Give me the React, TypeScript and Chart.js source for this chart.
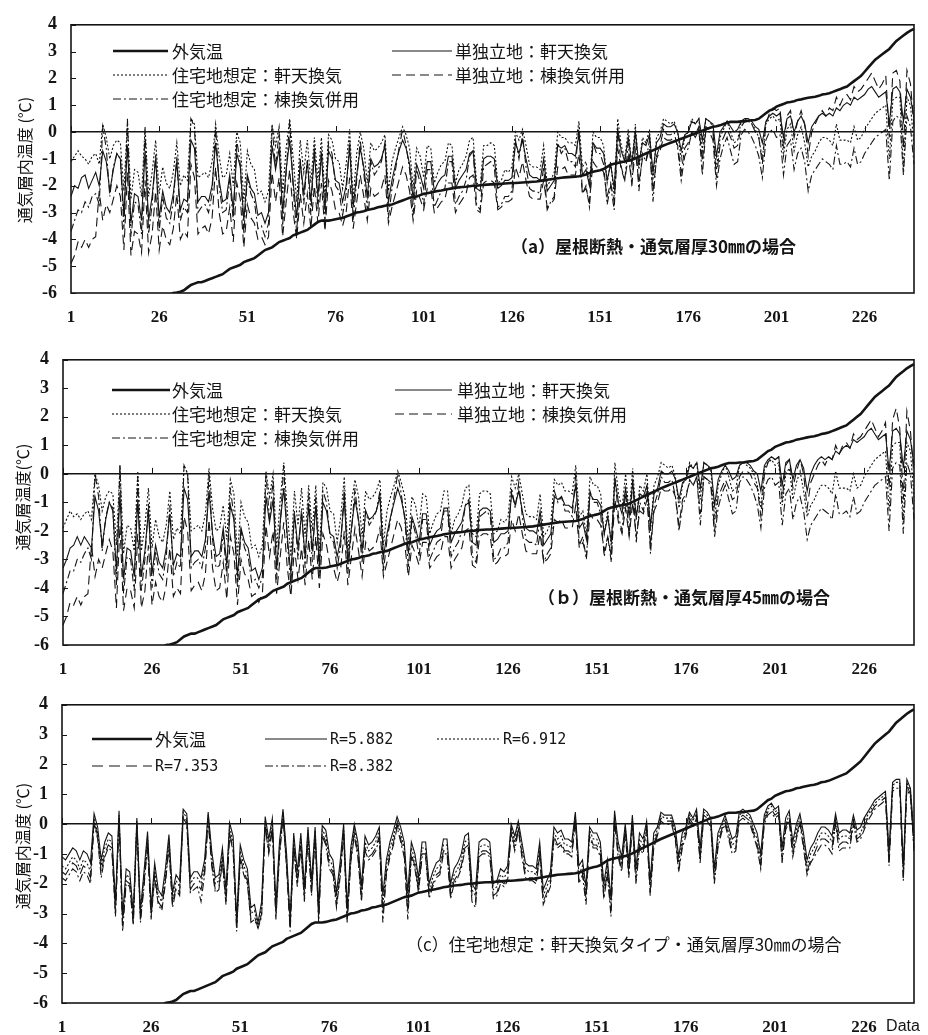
import React, { useEffect, useRef } from "react";
import { Chart, registerables } from "chart.js";

Chart.register(...registerables);

// ---------------- data ----------------
const POINT_COUNT = 240;
const categories: string[] = Array.from({ length: POINT_COUNT }, (_, i) => String(i + 1));
const xTickLabels = [1, 26, 51, 76, 101, 126, 151, 176, 201, 226];
const yMin = -6;
const yMax = 4;

// 外気温 (sorted outside air temperature, shared by all panels)
const outsideTemp = [
  -9.0,-8.8,-8.6,-8.5,-8.3,-8.2,-8.0,-7.9,-7.8,-7.7,
  -7.6,-7.5,-7.4,-7.3,-7.2,-7.1,-7.0,-6.9,-6.8,-6.7,
  -6.6,-6.55,-6.5,-6.45,-6.4,-6.3,-6.25,-6.2,-6.1,-6.0,
  -5.98,-5.95,-5.9,-5.8,-5.7,-5.65,-5.6,-5.6,-5.55,-5.5,
  -5.45,-5.4,-5.35,-5.3,-5.2,-5.1,-5.05,-5.0,-4.95,-4.85,
  -4.8,-4.75,-4.7,-4.6,-4.5,-4.4,-4.35,-4.3,-4.2,-4.1,
  -4.05,-4.0,-3.95,-3.85,-3.8,-3.75,-3.7,-3.65,-3.55,-3.45,
  -3.35,-3.3,-3.3,-3.3,-3.28,-3.25,-3.22,-3.2,-3.15,-3.1,
  -3.05,-3.0,-2.98,-2.95,-2.9,-2.88,-2.85,-2.8,-2.78,-2.75,
  -2.72,-2.7,-2.65,-2.6,-2.55,-2.5,-2.45,-2.42,-2.4,-2.35,
  -2.3,-2.28,-2.25,-2.22,-2.2,-2.18,-2.15,-2.12,-2.1,-2.08,
  -2.06,-2.05,-2.04,-2.02,-2.0,-2.0,-1.98,-1.97,-1.96,-1.95,
  -1.95,-1.94,-1.93,-1.92,-1.91,-1.9,-1.9,-1.89,-1.88,-1.87,
  -1.86,-1.85,-1.84,-1.82,-1.8,-1.78,-1.76,-1.74,-1.72,-1.7,
  -1.69,-1.68,-1.67,-1.66,-1.65,-1.62,-1.58,-1.52,-1.48,-1.45,
  -1.42,-1.38,-1.3,-1.22,-1.18,-1.15,-1.12,-1.1,-1.07,-1.04,
  -0.98,-0.92,-0.86,-0.8,-0.74,-0.68,-0.62,-0.56,-0.5,-0.45,
  -0.4,-0.35,-0.3,-0.25,-0.2,-0.15,-0.1,-0.05,0.0,0.05,
  0.1,0.15,0.2,0.22,0.25,0.3,0.35,0.38,0.38,0.38,
  0.4,0.4,0.42,0.44,0.45,0.5,0.6,0.7,0.8,0.85,
  0.95,1.0,1.05,1.1,1.12,1.15,1.2,1.22,1.25,1.28,
  1.3,1.32,1.35,1.4,1.42,1.45,1.5,1.55,1.6,1.65,
  1.7,1.8,1.9,2.0,2.1,2.25,2.4,2.55,2.7,2.8,
  2.9,3.0,3.1,3.25,3.4,3.5,3.6,3.7,3.78,3.85,
];

// (a) 30mm : 単独立地：軒天換気
const aDetachedEave = [
  -2.4,-2.0,-2.1,-1.7,-1.6,-2.1,-1.8,-1.5,-2.0,-0.7,
  -1.1,-2.2,-1.4,-0.8,-1.0,-3.1,-0.5,-3.4,-2.3,-2.4,
  -3.3,-0.7,-3.3,-2.4,-1.0,-3.2,-2.2,-2.8,-3.0,-2.3,
  -1.1,-2.9,-2.5,-2.6,-0.3,-0.6,-2.6,-2.4,-2.4,-2.6,
  -2.0,-0.4,-1.8,-2.6,-2.5,-1.6,-2.9,-0.8,-1.3,-3.3,
  -1.6,-2.1,-2.3,-3.1,-3.0,-3.4,-3.0,-0.5,-1.4,-0.6,
  -3.0,-1.4,-0.3,-1.9,-3.2,-1.1,-2.3,-1.1,-2.6,-0.8,
  -2.4,-0.8,-2.9,-0.7,-1.0,-1.8,-1.9,-2.6,-2.0,-0.6,
  -2.8,-1.6,-0.6,-1.3,-2.4,-1.0,-1.3,-1.2,-1.0,-0.5,
  -2.6,-1.8,-1.2,-0.7,-0.3,-0.6,-1.2,-2.5,-1.2,-1.6,
  -2.1,-1.1,-1.1,-2.2,-1.9,-1.7,-1.6,-0.9,-0.9,-2.1,
  -1.8,-1.6,-1.4,-0.8,-0.7,-2.1,-2.2,-1.0,-0.9,-0.9,
  -1.0,-2.1,-2.0,-1.8,-1.8,-1.7,-0.4,-0.8,-0.3,-1.0,
  -1.6,-1.7,-1.7,-1.8,-1.0,-2.2,-2.0,-1.8,-0.5,-0.6,
  -0.5,-0.8,-0.8,-0.9,-0.1,-1.6,-1.4,-2.0,-0.4,-0.6,
  -0.6,-0.8,-1.8,-1.2,-2.1,0.1,-0.7,-1.1,-0.2,-1.2,
  0.0,-1.2,-0.4,-0.5,-0.1,-1.5,-0.4,-0.2,0.3,0.2,
  0.2,0.3,0.0,-0.7,-0.1,0.0,0.4,0.3,0.5,-0.3,
  0.5,0.4,0.3,-0.9,0.0,0.2,0.4,0.2,0.0,0.1,
  0.4,0.5,0.5,0.4,0.2,0.1,-0.4,0.4,0.6,0.7,
  0.6,0.7,-0.2,0.5,0.6,0.0,0.4,0.6,0.3,-0.4,
  0.2,0.4,0.6,0.7,0.6,0.7,0.6,0.9,0.8,1.0,
  1.1,1.0,1.3,1.2,1.3,1.4,1.6,1.7,1.5,1.3,
  1.4,1.5,0.3,1.6,1.7,1.5,0.4,1.6,1.3,0.5,
];

// (a) 30mm : 住宅地想定：軒天換気
const aHouseEave = [
  -1.1,-0.9,-0.7,-0.9,-1.0,-1.2,-0.9,-0.8,-1.2,0.3,
  -0.2,-1.0,-0.5,-0.3,-0.4,-2.2,0.4,-2.5,-1.4,-1.5,
  -2.4,0.2,-2.4,-1.5,-0.3,-2.3,-1.3,-1.9,-2.1,-1.5,
  -0.4,-2.0,-1.6,-1.8,0.5,0.3,-1.7,-1.6,-1.5,-1.7,
  -1.1,0.3,-0.9,-1.7,-1.6,-0.8,-2.0,0.0,-0.4,-2.6,
  -0.7,-1.2,-1.4,-2.3,-2.2,-2.6,-2.2,0.3,-0.5,0.2,
  -2.3,-0.6,0.5,-1.0,-2.6,-0.3,-1.5,-0.3,-1.9,-0.2,
  -1.8,-0.2,-2.4,-0.1,-0.3,-1.0,-1.1,-2.1,-1.2,0.1,
  -2.5,-0.8,0.0,-0.6,-1.9,-0.4,-0.7,-0.6,-0.4,-0.1,
  -2.2,-1.1,-0.6,-0.2,0.2,-0.1,-0.6,-2.1,-0.6,-0.9,
  -1.7,-0.5,-0.6,-1.9,-1.5,-1.2,-1.1,-0.4,-0.5,-1.9,
  -1.4,-1.2,-0.9,-0.3,-0.2,-1.9,-2.0,-0.5,-0.5,-0.4,
  -0.5,-1.9,-1.8,-1.4,-1.5,-1.3,0.0,-0.3,0.1,-0.5,
  -1.2,-1.3,-1.3,-1.4,-0.5,-2.0,-1.8,-1.5,0.0,-0.2,
  -0.2,-0.4,-0.4,-0.5,0.4,-1.3,-1.1,-2.0,0.0,-0.2,
  -0.2,-0.5,-1.9,-1.1,-2.4,0.5,-0.5,-1.0,0.1,-1.2,
  0.3,-1.4,-0.2,-0.4,0.1,-1.8,-0.2,0.0,0.5,0.4,
  0.3,0.4,0.0,-1.0,-0.2,0.0,0.5,0.3,0.5,-0.7,
  0.5,0.4,0.2,-1.4,-0.2,0.1,0.4,0.0,-0.4,-0.3,
  0.4,0.5,0.4,0.3,0.1,-0.2,-1.0,0.3,0.5,0.6,
  0.4,0.5,-0.9,0.1,0.3,-0.7,-0.1,0.2,-0.4,-1.3,
  -0.9,-0.7,-0.4,-0.2,-0.2,-0.3,-0.5,0.3,-0.3,-0.3,
  -0.3,-0.4,0.2,-0.3,-0.2,0.1,0.3,0.5,0.7,0.8,
  0.9,1.0,-1.0,1.2,1.3,1.3,-1.4,1.3,1.0,-0.5,
];

// (a) 30mm : 単独立地：棟換気併用
const aDetachedRidge = [
  -4.9,-4.6,-4.1,-4.3,-4.0,-4.3,-4.0,-3.9,-2.2,-3.3,
  -2.7,-3.0,-2.5,-2.0,-2.4,-4.4,-1.5,-4.6,-3.7,-3.8,
  -4.5,-1.8,-4.5,-3.8,-2.2,-4.4,-3.5,-4.0,-4.2,-3.6,
  -2.3,-4.0,-3.7,-3.9,-1.2,-1.7,-3.8,-3.6,-3.5,-3.8,
  -3.2,-1.3,-3.0,-3.8,-3.7,-2.8,-4.1,-1.9,-2.5,-4.3,
  -2.7,-3.2,-3.4,-4.0,-3.9,-4.2,-3.9,-1.5,-2.6,-1.7,
  -3.9,-2.6,-1.4,-3.0,-4.0,-2.3,-3.4,-2.3,-3.6,-2.0,
  -3.4,-1.9,-3.7,-1.8,-2.2,-2.9,-3.0,-3.5,-3.0,-1.7,
  -3.6,-2.6,-1.6,-2.4,-3.3,-2.1,-2.4,-2.3,-2.1,-1.6,
  -3.4,-2.8,-2.3,-1.8,-1.3,-1.6,-2.2,-3.3,-2.2,-2.5,
  -2.9,-2.1,-2.1,-3.0,-2.8,-2.6,-2.5,-1.9,-1.9,-3.0,
  -2.7,-2.5,-2.3,-1.7,-1.6,-2.9,-3.0,-1.9,-1.8,-1.8,
  -1.9,-2.9,-2.8,-2.6,-2.6,-2.5,-1.3,-1.7,-1.1,-1.8,
  -2.4,-2.5,-2.5,-2.5,-1.8,-2.8,-2.7,-2.5,-1.3,-1.4,
  -1.3,-1.6,-1.6,-1.6,-0.8,-2.3,-2.1,-2.6,-1.1,-1.3,
  -1.3,-1.5,-2.4,-1.9,-2.6,-0.6,-1.4,-1.8,-0.9,-1.9,
  -0.7,-1.9,-1.0,-1.1,-0.6,-2.2,-1.0,-0.7,-0.2,-0.3,
  -0.3,-0.2,-0.5,-1.5,-0.6,-0.4,0.0,-0.1,0.2,-1.1,
  0.2,0.1,0.0,-1.7,-0.5,-0.2,0.1,-0.2,-0.6,-0.5,
  0.2,0.4,0.4,0.3,0.0,-0.2,-1.2,0.3,0.7,0.9,
  0.8,0.9,-0.6,0.6,0.8,-0.2,0.4,0.8,0.3,-0.9,
  0.0,0.3,0.6,0.8,0.6,0.9,0.8,1.3,1.0,1.3,
  1.4,1.2,1.7,1.5,1.6,1.8,2.0,2.2,1.9,1.6,
  1.8,2.1,-0.2,2.2,2.3,1.9,-0.6,2.3,1.8,0.2,
];

// (a) 30mm : 住宅地想定：棟換気併用
const aHouseRidge = [
  -3.7,-3.3,-2.9,-3.0,-2.6,-2.8,-2.4,-2.3,-2.7,0.2,
  -0.6,-2.4,-1.3,-0.8,-1.0,-3.6,0.5,-3.9,-2.6,-2.7,
  -3.8,0.1,-3.8,-2.7,-0.8,-3.7,-2.4,-3.2,-3.4,-2.6,
  -0.9,-3.3,-2.8,-3.0,0.5,0.2,-3.0,-2.8,-2.7,-3.0,
  -2.3,0.2,-2.0,-3.0,-2.9,-1.8,-3.3,-0.3,-1.2,-3.8,
  -1.7,-2.3,-2.6,-3.6,-3.5,-3.9,-3.4,0.2,-1.3,0.0,
  -3.5,-1.5,0.4,-2.1,-3.8,-1.0,-2.7,-1.0,-3.1,-0.5,
  -2.9,-0.6,-3.4,-0.4,-0.8,-2.0,-2.2,-3.1,-2.3,-0.3,
  -3.3,-1.8,-0.3,-1.5,-2.9,-1.1,-1.6,-1.4,-1.1,-0.4,
  -3.2,-2.1,-1.4,-0.6,0.1,-0.5,-1.4,-3.1,-1.4,-1.9,
  -2.7,-1.4,-1.4,-2.8,-2.5,-2.2,-2.1,-1.1,-1.1,-2.7,
  -2.4,-2.2,-1.8,-0.9,-0.7,-2.7,-2.9,-1.3,-1.2,-1.1,
  -1.3,-2.8,-2.7,-2.4,-2.4,-2.2,-0.3,-1.0,-0.1,-1.3,
  -2.1,-2.2,-2.2,-2.3,-1.3,-2.9,-2.6,-2.4,-0.4,-0.8,
  -0.6,-1.1,-1.1,-1.3,0.2,-2.3,-2.0,-2.8,-0.4,-0.8,
  -0.8,-1.2,-2.7,-2.0,-2.9,0.1,-1.3,-1.8,-0.4,-2.0,
  0.0,-2.2,-0.8,-1.1,-0.3,-2.6,-0.9,-0.5,0.1,-0.1,
  -0.1,0.0,-0.6,-1.8,-0.9,-0.6,0.0,-0.2,0.1,-1.6,
  0.1,0.0,-0.3,-2.0,-1.0,-0.5,-0.2,-0.7,-1.2,-1.1,
  -0.1,0.1,0.0,-0.2,-0.5,-0.9,-1.7,-0.3,0.0,0.1,
  -0.2,-0.1,-1.6,-0.5,-0.3,-1.4,-0.8,-0.6,-1.1,-2.2,
  -1.6,-1.4,-1.2,-1.0,-1.1,-1.2,-1.4,-0.5,-1.2,-1.2,
  -1.1,-1.3,-0.6,-1.2,-1.1,-0.8,-0.6,-0.4,-0.2,-0.1,
  0.0,0.1,-1.8,0.4,0.6,0.5,-1.6,0.6,0.2,-1.2,
];

// (b) 45mm : 単独立地：軒天換気
const bDetachedEave = [
  -3.3,-3.0,-2.6,-2.5,-2.2,-2.5,-2.2,-2.4,-2.6,-0.8,
  -1.3,-2.5,-1.6,-1.0,-1.3,-3.4,-0.7,-3.7,-2.6,-2.7,
  -3.6,-0.9,-3.6,-2.7,-1.3,-3.5,-2.5,-3.1,-3.3,-2.6,
  -1.4,-3.2,-2.8,-2.9,-0.5,-0.9,-2.9,-2.7,-2.7,-2.9,
  -2.3,-0.6,-2.1,-2.9,-2.8,-1.9,-3.2,-1.1,-1.6,-3.6,
  -1.9,-2.4,-2.6,-3.4,-3.3,-3.7,-3.3,-0.8,-1.7,-0.9,
  -3.3,-1.7,-0.5,-2.2,-3.5,-1.4,-2.6,-1.4,-2.9,-1.1,
  -2.7,-1.1,-3.2,-1.0,-1.3,-2.1,-2.2,-2.9,-2.3,-0.9,
  -3.1,-1.9,-0.9,-1.6,-2.7,-1.3,-1.6,-1.5,-1.3,-0.8,
  -2.9,-2.1,-1.5,-1.0,-0.5,-0.9,-1.5,-2.8,-1.5,-1.9,
  -2.4,-1.4,-1.4,-2.5,-2.2,-2.0,-1.9,-1.2,-1.2,-2.4,
  -2.1,-1.9,-1.7,-1.1,-1.0,-2.4,-2.5,-1.3,-1.2,-1.2,
  -1.3,-2.4,-2.3,-2.1,-2.1,-2.0,-0.7,-1.1,-0.6,-1.3,
  -1.9,-2.0,-2.0,-2.1,-1.3,-2.5,-2.3,-2.1,-0.8,-0.9,
  -0.8,-1.1,-1.1,-1.2,-0.4,-1.9,-1.7,-2.3,-0.7,-0.9,
  -0.9,-1.1,-2.1,-1.5,-2.4,-0.2,-1.0,-1.4,-0.5,-1.5,
  -0.3,-1.5,-0.7,-0.8,-0.4,-1.8,-0.7,-0.5,0.1,0.0,
  0.0,0.1,-0.2,-0.9,-0.3,-0.2,0.3,0.2,0.4,-0.5,
  0.4,0.3,0.2,-1.1,-0.2,0.1,0.3,0.1,-0.2,-0.1,
  0.3,0.4,0.4,0.3,0.1,0.0,-0.6,0.3,0.5,0.6,
  0.5,0.6,-0.4,0.4,0.5,-0.2,0.3,0.5,0.2,-0.6,
  0.0,0.3,0.5,0.6,0.5,0.6,0.5,0.8,0.7,0.9,
  1.0,0.9,1.2,1.1,1.2,1.3,1.5,1.6,1.4,1.2,
  1.3,1.4,0.1,1.5,1.6,1.4,0.2,1.5,1.2,0.3,
];

// (b) 45mm : 住宅地想定：軒天換気
const bHouseEave = [
  -1.9,-1.6,-1.3,-1.5,-1.4,-1.6,-1.4,-1.3,-1.6,0.0,
  -0.4,-1.3,-0.8,-0.6,-0.7,-2.5,0.3,-2.8,-1.8,-1.9,
  -2.7,0.1,-2.7,-1.8,-0.5,-2.6,-1.6,-2.2,-2.4,-1.8,
  -0.6,-2.3,-1.9,-2.1,0.3,0.0,-2.0,-1.9,-1.8,-2.0,
  -1.4,0.2,-1.2,-2.0,-1.9,-1.1,-2.3,-0.2,-0.7,-2.9,
  -1.0,-1.5,-1.7,-2.6,-2.5,-2.9,-2.5,0.1,-0.8,0.0,
  -2.6,-0.9,0.4,-1.3,-2.9,-0.6,-1.8,-0.5,-2.2,-0.4,
  -2.0,-0.4,-2.7,-0.3,-0.5,-1.3,-1.4,-2.4,-1.5,-0.1,
  -2.8,-1.0,-0.2,-0.8,-2.2,-0.6,-0.9,-0.8,-0.6,-0.2,
  -2.5,-1.3,-0.8,-0.4,0.1,-0.3,-0.8,-2.4,-0.8,-1.1,
  -1.9,-0.7,-0.8,-2.1,-1.7,-1.4,-1.3,-0.6,-0.6,-2.1,
  -1.6,-1.4,-1.1,-0.5,-0.4,-2.1,-2.2,-0.7,-0.6,-0.6,
  -0.7,-2.1,-2.0,-1.6,-1.7,-1.5,-0.1,-0.5,0.0,-0.7,
  -1.4,-1.5,-1.5,-1.6,-0.7,-2.2,-2.0,-1.7,-0.2,-0.4,
  -0.3,-0.6,-0.6,-0.7,0.3,-1.5,-1.3,-2.2,-0.1,-0.4,
  -0.4,-0.7,-2.1,-1.3,-2.6,0.4,-0.7,-1.2,0.0,-1.4,
  0.2,-1.6,-0.4,-0.6,0.0,-2.0,-0.4,-0.1,0.4,0.3,
  0.2,0.3,-0.1,-1.2,-0.4,-0.1,0.4,0.2,0.4,-0.9,
  0.4,0.3,0.1,-1.6,-0.4,0.0,0.3,-0.1,-0.6,-0.5,
  0.3,0.4,0.3,0.2,0.0,-0.4,-1.2,0.2,0.4,0.5,
  0.3,0.4,-1.1,0.0,0.2,-0.9,-0.3,0.1,-0.6,-1.5,
  -1.1,-0.9,-0.6,-0.4,-0.4,-0.5,-0.7,0.1,-0.5,-0.5,
  -0.5,-0.6,0.0,-0.5,-0.4,-0.1,0.1,0.3,0.5,0.6,
  0.7,0.8,-1.3,1.0,1.1,1.1,-1.7,1.1,0.8,-0.8,
];

// (b) 45mm : 単独立地：棟換気併用
const bDetachedRidge = [
  -5.3,-5.0,-4.5,-4.6,-4.3,-4.6,-4.3,-4.2,-2.5,-3.6,
  -3.0,-3.3,-2.8,-2.3,-2.7,-4.7,-1.8,-4.8,-4.0,-4.1,
  -4.7,-2.1,-4.7,-4.1,-2.5,-4.6,-3.8,-4.3,-4.5,-3.9,
  -2.6,-4.3,-4.0,-4.2,-1.5,-2.0,-4.1,-3.9,-3.8,-4.1,
  -3.5,-1.6,-3.3,-4.1,-4.0,-3.1,-4.4,-2.2,-2.8,-4.6,
  -3.0,-3.5,-3.7,-4.3,-4.2,-4.5,-4.2,-1.8,-2.9,-2.0,
  -4.2,-2.9,-1.7,-3.3,-4.3,-2.6,-3.7,-2.6,-3.9,-2.3,
  -3.7,-2.2,-4.0,-2.1,-2.5,-3.2,-3.3,-3.8,-3.3,-2.0,
  -3.9,-2.9,-1.9,-2.7,-3.6,-2.4,-2.7,-2.6,-2.4,-1.9,
  -3.6,-3.1,-2.6,-2.1,-1.6,-1.9,-2.5,-3.6,-2.5,-2.8,
  -3.2,-2.4,-2.4,-3.3,-3.1,-2.9,-2.8,-2.2,-2.2,-3.3,
  -3.0,-2.8,-2.6,-2.0,-1.9,-3.2,-3.3,-2.2,-2.1,-2.1,
  -2.2,-3.2,-3.1,-2.9,-2.9,-2.8,-1.6,-2.0,-1.4,-2.1,
  -2.7,-2.8,-2.8,-2.8,-2.1,-3.1,-3.0,-2.8,-1.6,-1.7,
  -1.6,-1.9,-1.9,-1.9,-1.1,-2.6,-2.4,-2.9,-1.4,-1.6,
  -1.6,-1.8,-2.7,-2.2,-2.9,-0.9,-1.7,-2.1,-1.2,-2.2,
  -1.0,-2.2,-1.3,-1.4,-0.9,-2.5,-1.3,-1.0,-0.5,-0.6,
  -0.6,-0.5,-0.8,-1.8,-0.9,-0.7,-0.3,-0.4,-0.1,-1.4,
  -0.1,-0.2,-0.3,-2.0,-0.8,-0.5,-0.2,-0.5,-0.9,-0.8,
  -0.1,0.1,0.1,0.0,-0.3,-0.5,-1.5,0.0,0.4,0.6,
  0.5,0.6,-0.9,0.3,0.5,-0.5,0.1,0.5,0.0,-1.2,
  -0.3,0.0,0.3,0.5,0.3,0.6,0.5,1.0,0.7,1.0,
  1.1,0.9,1.4,1.2,1.3,1.5,1.7,1.9,1.6,1.3,
  1.5,1.8,-0.5,1.9,2.3,1.6,-0.9,2.2,1.5,-0.1,
];

// (b) 45mm : 住宅地想定：棟換気併用
const bHouseRidge = [
  -4.2,-3.8,-3.4,-3.4,-3.0,-3.1,-2.8,-2.6,-3.0,0.0,
  -0.8,-2.7,-1.5,-1.0,-1.2,-3.9,0.3,-4.2,-2.9,-3.0,
  -4.1,-0.1,-4.1,-3.0,-1.0,-4.0,-2.7,-3.5,-3.7,-2.9,
  -1.1,-3.6,-3.1,-3.3,0.3,0.0,-3.3,-3.1,-3.0,-3.3,
  -2.6,0.0,-2.3,-3.3,-3.2,-2.1,-3.6,-0.5,-1.5,-4.0,
  -2.0,-2.6,-2.9,-3.8,-3.7,-4.0,-3.6,0.0,-1.6,-0.2,
  -3.7,-1.8,0.3,-2.4,-3.9,-1.3,-3.0,-1.2,-3.3,-0.7,
  -3.1,-0.8,-3.6,-0.6,-1.0,-2.2,-2.4,-3.3,-2.5,-0.5,
  -3.5,-2.0,-0.5,-1.7,-3.1,-1.3,-1.8,-1.6,-1.3,-0.6,
  -3.4,-2.3,-1.6,-0.8,0.0,-0.7,-1.6,-3.3,-1.6,-2.1,
  -2.9,-1.6,-1.6,-3.0,-2.7,-2.4,-2.3,-1.3,-1.3,-2.9,
  -2.6,-2.4,-2.0,-1.1,-0.9,-2.9,-3.1,-1.5,-1.4,-1.3,
  -1.5,-3.0,-2.9,-2.6,-2.6,-2.4,-0.5,-1.2,-0.3,-1.5,
  -2.3,-2.4,-2.4,-2.5,-1.5,-3.1,-2.8,-2.6,-0.6,-1.0,
  -0.8,-1.3,-1.3,-1.5,0.0,-2.5,-2.2,-3.0,-0.6,-1.0,
  -1.0,-1.4,-2.9,-2.2,-3.1,-0.1,-1.5,-2.0,-0.6,-2.2,
  -0.2,-2.4,-1.0,-1.3,-0.5,-2.8,-1.1,-0.7,-0.1,-0.3,
  -0.3,-0.2,-0.8,-2.0,-1.1,-0.8,-0.2,-0.4,-0.1,-1.8,
  -0.1,-0.2,-0.5,-2.2,-1.2,-0.7,-0.4,-0.9,-1.4,-1.3,
  -0.3,-0.1,-0.2,-0.4,-0.7,-1.1,-1.9,-0.5,-0.2,-0.1,
  -0.4,-0.3,-1.8,-0.7,-0.5,-1.6,-1.0,-0.8,-1.3,-2.3,
  -1.8,-1.6,-1.4,-1.2,-1.3,-1.4,-1.6,-0.7,-1.4,-1.4,
  -1.3,-1.5,-0.8,-1.4,-1.3,-1.0,-0.8,-0.6,-0.4,-0.3,
  -0.2,-0.1,-2.0,0.2,0.4,0.3,-2.1,0.4,0.0,-1.6,
];

// (c) 住宅地想定：軒天換気タイプ 30mm, R=5.882
const cR5882 = [
  -1.1,-1.2,-1.0,-0.8,-0.9,-1.2,-0.9,-1.0,-1.3,0.35,
  -0.1,-1.2,-0.6,-0.3,-0.4,-2.6,0.45,-3.1,-1.5,-1.6,
  -3.0,0.2,-2.9,-1.6,-0.25,-2.8,-1.3,-2.2,-2.4,-1.5,
  -0.35,-2.3,-1.7,-1.9,0.5,0.35,-1.8,-1.6,-1.6,-1.8,
  -1.2,0.4,-0.9,-1.8,-1.7,-0.8,-2.2,0.05,-0.4,-3.2,
  -0.7,-1.2,-1.5,-2.8,-2.7,-3.3,-2.6,0.25,-0.5,0.2,
  -2.7,-0.6,0.5,-1.0,-3.2,-0.3,-1.6,-0.3,-2.1,-0.1,
  -1.9,-0.1,-2.8,-0.05,-0.2,-1.0,-1.2,-2.3,-1.3,0.0,
  -2.8,-0.8,0.0,-0.6,-2.1,-0.4,-0.7,-0.6,-0.4,-0.1,
  -2.4,-1.2,-0.6,-0.2,0.25,-0.1,-0.6,-2.3,-0.6,-1.0,
  -1.8,-0.6,-0.6,-2.0,-1.6,-1.3,-1.2,-0.5,-0.5,-2.0,
  -1.5,-1.3,-1.0,-0.4,-0.3,-2.0,-2.2,-0.6,-0.5,-0.5,
  -0.6,-2.0,-1.9,-1.5,-1.6,-1.4,0.0,-0.4,0.1,-0.6,
  -1.3,-1.4,-1.4,-1.5,-0.6,-2.2,-1.9,-1.6,-0.1,-0.3,
  -0.2,-0.5,-0.5,-0.6,0.4,-1.4,-1.2,-2.1,-0.1,-0.3,
  -0.3,-0.6,-2.0,-1.2,-2.5,0.45,-0.6,-1.1,0.0,-1.3,
  0.3,-1.5,-0.3,-0.5,0.1,-1.9,-0.3,-0.1,0.4,0.3,
  0.3,0.3,-0.1,-1.1,-0.3,-0.1,0.4,0.2,0.5,-0.8,
  0.5,0.4,0.2,-1.5,-0.3,0.0,0.3,-0.1,-0.5,-0.4,
  0.4,0.5,0.4,0.3,0.0,-0.3,-1.0,0.3,0.6,0.7,
  0.5,0.6,-0.8,0.2,0.45,-0.6,0.0,0.35,-0.3,-1.2,
  -0.8,-0.6,-0.3,-0.1,-0.1,-0.2,-0.4,0.35,-0.3,-0.2,
  -0.2,-0.3,0.3,-0.2,-0.1,0.2,0.4,0.6,0.8,0.9,
  1.0,1.1,-0.9,1.4,1.5,1.5,-1.4,1.5,1.2,-0.4,
];

// (c) R=6.912
const cR6912 = [
  -1.4,-1.5,-1.3,-1.1,-1.2,-1.5,-1.2,-1.3,-1.6,0.2,
  -0.3,-1.4,-0.8,-0.5,-0.6,-2.8,0.3,-3.2,-1.7,-1.8,
  -3.1,0.1,-3.0,-1.8,-0.4,-2.9,-1.5,-2.4,-2.6,-1.7,
  -0.5,-2.5,-1.9,-2.1,0.4,0.2,-2.0,-1.8,-1.8,-2.0,
  -1.4,0.3,-1.1,-2.0,-1.9,-1.0,-2.4,-0.1,-0.6,-3.3,
  -0.9,-1.4,-1.7,-3.0,-2.9,-3.4,-2.8,0.1,-0.7,0.1,
  -2.9,-0.8,0.4,-1.2,-3.3,-0.5,-1.8,-0.5,-2.3,-0.2,
  -2.1,-0.2,-3.0,-0.2,-0.4,-1.2,-1.4,-2.5,-1.5,-0.1,
  -3.0,-1.0,-0.1,-0.8,-2.3,-0.6,-0.9,-0.8,-0.6,-0.2,
  -2.7,-1.4,-0.8,-0.4,0.1,-0.3,-0.8,-2.6,-0.8,-1.2,
  -2.0,-0.8,-0.8,-2.2,-1.8,-1.5,-1.4,-0.7,-0.7,-2.2,
  -1.7,-1.5,-1.2,-0.6,-0.5,-2.2,-2.4,-0.8,-0.7,-0.7,
  -0.8,-2.2,-2.1,-1.7,-1.8,-1.6,-0.1,-0.6,0.0,-0.8,
  -1.5,-1.6,-1.6,-1.7,-0.8,-2.4,-2.1,-1.8,-0.3,-0.5,
  -0.4,-0.7,-0.7,-0.8,0.3,-1.7,-1.4,-2.3,-0.2,-0.5,
  -0.5,-0.8,-2.2,-1.4,-2.7,0.3,-0.8,-1.3,-0.1,-1.5,
  0.2,-1.7,-0.5,-0.7,0.0,-2.1,-0.5,-0.2,0.3,0.2,
  0.2,0.2,-0.3,-1.3,-0.5,-0.2,0.3,0.1,0.4,-1.0,
  0.4,0.3,0.1,-1.7,-0.5,-0.1,0.2,-0.3,-0.7,-0.6,
  0.3,0.4,0.3,0.2,-0.2,-0.5,-1.2,0.2,0.5,0.6,
  0.4,0.5,-1.0,0.0,0.3,-0.8,-0.2,0.2,-0.5,-1.4,
  -1.0,-0.8,-0.5,-0.3,-0.3,-0.4,-0.6,0.2,-0.5,-0.4,
  -0.4,-0.5,0.2,-0.4,-0.3,0.0,0.3,0.5,0.7,0.8,
  0.9,1.0,-1.1,1.3,1.4,1.4,-1.6,1.4,1.1,-0.6,
];

// (c) R=7.353
const cR7353 = [
  -1.6,-1.7,-1.5,-1.3,-1.4,-1.7,-1.4,-1.5,-1.8,0.1,
  -0.4,-1.6,-1.0,-0.7,-0.8,-3.0,0.2,-3.4,-1.9,-2.0,
  -3.3,0.0,-3.2,-2.0,-0.6,-3.1,-1.7,-2.6,-2.8,-1.9,
  -0.7,-2.7,-2.1,-2.3,0.3,0.1,-2.2,-2.0,-2.0,-2.2,
  -1.6,0.2,-1.3,-2.2,-2.1,-1.2,-2.6,-0.3,-0.8,-3.5,
  -1.1,-1.6,-1.9,-3.2,-3.1,-3.5,-3.0,0.0,-0.9,-0.1,
  -3.1,-1.0,0.3,-1.4,-3.5,-0.7,-2.0,-0.7,-2.5,-0.4,
  -2.3,-0.4,-3.2,-0.3,-0.6,-1.4,-1.6,-2.7,-1.7,-0.3,
  -3.2,-1.2,-0.3,-1.0,-2.5,-0.8,-1.1,-1.0,-0.8,-0.4,
  -3.0,-1.6,-1.0,-0.6,0.0,-0.5,-1.0,-2.9,-1.0,-1.4,
  -2.2,-1.0,-1.0,-2.4,-2.0,-1.7,-1.6,-0.9,-0.9,-2.4,
  -1.9,-1.7,-1.4,-0.8,-0.7,-2.4,-2.6,-1.0,-0.9,-0.9,
  -1.0,-2.4,-2.3,-1.9,-2.0,-1.8,-0.2,-0.8,-0.1,-1.0,
  -1.7,-1.8,-1.8,-1.9,-1.0,-2.6,-2.3,-2.0,-0.4,-0.7,
  -0.6,-0.9,-0.9,-1.0,0.2,-1.9,-1.6,-2.5,-0.3,-0.7,
  -0.7,-1.0,-2.4,-1.6,-2.9,0.2,-1.0,-1.5,-0.2,-1.7,
  0.1,-1.9,-0.7,-0.9,-0.1,-2.3,-0.7,-0.3,0.2,0.1,
  0.1,0.1,-0.4,-1.5,-0.7,-0.3,0.2,0.0,0.3,-1.2,
  0.3,0.2,0.0,-1.9,-0.7,-0.2,0.1,-0.4,-0.9,-0.8,
  0.2,0.3,0.2,0.1,-0.3,-0.7,-1.4,0.1,0.4,0.5,
  0.3,0.4,-1.2,-0.1,0.2,-1.0,-0.4,0.1,-0.7,-1.6,
  -1.2,-1.0,-0.7,-0.5,-0.5,-0.6,-0.8,0.1,-0.7,-0.6,
  -0.6,-0.7,0.1,-0.5,-0.4,-0.1,0.2,0.4,0.6,0.7,
  0.8,0.9,-1.3,1.2,1.3,1.3,-1.8,1.3,1.0,-0.8,
];

// (c) R=8.382
const cR8382 = [
  -1.8,-1.9,-1.7,-1.5,-1.6,-1.9,-1.6,-1.7,-2.0,0.0,
  -0.5,-1.8,-1.1,-0.8,-0.9,-3.1,0.1,-3.6,-2.0,-2.1,
  -3.4,-0.1,-3.3,-2.1,-0.7,-3.2,-1.8,-2.7,-2.9,-2.0,
  -0.8,-2.8,-2.2,-2.4,0.2,0.0,-2.3,-2.2,-2.1,-2.6,
  -1.7,0.1,-1.4,-2.3,-2.2,-1.3,-2.7,-0.4,-0.9,-3.6,
  -1.2,-1.7,-2.0,-3.3,-3.2,-3.5,-3.1,-0.1,-1.0,-0.2,
  -3.2,-1.1,0.2,-1.5,-3.6,-0.8,-2.1,-0.8,-2.6,-0.5,
  -2.4,-0.5,-3.3,-0.4,-0.7,-1.5,-1.7,-2.8,-1.8,-0.4,
  -3.3,-1.3,-0.4,-1.1,-2.6,-0.9,-1.2,-1.1,-0.9,-0.5,
  -3.3,-1.7,-1.1,-0.7,-0.1,-0.6,-1.1,-3.2,-1.1,-1.5,
  -2.3,-1.1,-1.1,-2.5,-2.1,-1.8,-1.7,-1.0,-1.0,-2.5,
  -2.0,-1.8,-1.5,-0.9,-0.8,-2.6,-2.8,-1.1,-1.0,-1.0,
  -1.1,-2.5,-2.4,-2.0,-2.1,-1.9,-0.3,-0.9,-0.2,-1.1,
  -1.8,-1.9,-1.9,-2.0,-1.1,-2.7,-2.4,-2.1,-0.5,-0.8,
  -0.7,-1.0,-1.0,-1.1,0.1,-2.0,-1.7,-2.7,-0.4,-0.8,
  -0.8,-1.1,-2.5,-1.7,-3.1,0.1,-1.1,-1.6,-0.3,-1.8,
  0.0,-2.0,-0.8,-1.0,-0.2,-2.4,-0.8,-0.4,0.1,0.0,
  0.0,0.0,-0.5,-1.6,-0.8,-0.4,0.1,-0.1,0.2,-1.3,
  0.2,0.1,-0.1,-2.0,-0.8,-0.3,0.0,-0.5,-1.0,-0.9,
  0.1,0.2,0.1,0.0,-0.4,-0.8,-1.5,0.0,0.3,0.4,
  0.2,0.3,-1.3,-0.2,0.1,-1.1,-0.5,0.0,-0.8,-1.7,
  -1.3,-1.1,-0.9,-0.7,-0.7,-0.8,-1.0,0.0,-0.9,-0.8,
  -0.8,-0.8,0.0,-0.6,-0.5,-0.2,0.1,0.3,0.5,0.6,
  0.7,0.8,-1.4,1.1,1.2,1.2,-1.9,1.2,0.9,-0.9,
];

// ---------------- styles ----------------
const INK = "#141414";
const SERIF = "'Liberation Serif', 'DejaVu Serif', serif";
const GOTHIC = "'Noto Sans CJK JP', 'Noto Sans', sans-serif";
const MONO = "'DejaVu Sans Mono', 'Liberation Mono', monospace";

type SeriesSpec = { label: string; data: number[]; width: number; dash: number[] };
type LegendSpec = { label: string; x1: number; x2: number; tx: number; y: number; width: number; dash: number[]; mono?: boolean };
type PanelSpec = {
  top: number;
  height: number;
  padTop: number;
  axisLeft: number;
  axisBottom: number;
  padRight: number;
  yTitle: string;
  yTitleX: number;
  yTitleY: number;
  note: string;
  noteX: number;
  noteY: number;
  noteBold: boolean;
  showDataLabel: boolean;
  series: SeriesSpec[];
  legend: LegendSpec[];
};

const OUT_W = 2.6;
const THIN = 1.1;
const DOT = [2, 2];
const DASH = [9, 5];
const DASHDOT = [8, 3, 2, 3];
const LONGDASH = [11, 6];

const outsideSeries: SeriesSpec = { label: "外気温", data: outsideTemp, width: OUT_W, dash: [] };

const panels: PanelSpec[] = [
  {
    top: 0, height: 335, padTop: 17, axisLeft: 71, axisBottom: 42, padRight: 13,
    yTitle: "通気層内温度 (℃)", yTitleX: 25, yTitleY: 160,
    note: "（a）屋根断熱・通気層厚30㎜の場合", noteX: 511, noteY: 247, noteBold: true,
    showDataLabel: false,
    series: [
      outsideSeries,
      { label: "単独立地：軒天換気", data: aDetachedEave, width: THIN, dash: [] },
      { label: "住宅地想定：軒天換気", data: aHouseEave, width: THIN, dash: DOT },
      { label: "単独立地：棟換気併用", data: aDetachedRidge, width: THIN, dash: DASH },
      { label: "住宅地想定：棟換気併用", data: aHouseRidge, width: THIN, dash: DASHDOT },
    ],
    legend: [
      { label: "外気温", x1: 113, x2: 168, tx: 172, y: 51, width: OUT_W, dash: [] },
      { label: "住宅地想定：軒天換気", x1: 113, x2: 168, tx: 172, y: 75, width: THIN, dash: DOT },
      { label: "住宅地想定：棟換気併用", x1: 113, x2: 168, tx: 172, y: 99, width: THIN, dash: DASHDOT },
      { label: "単独立地：軒天換気", x1: 392, x2: 452, tx: 455, y: 51, width: THIN, dash: [] },
      { label: "単独立地：棟換気併用", x1: 392, x2: 452, tx: 455, y: 75, width: THIN, dash: DASH },
    ],
  },
  {
    top: 335, height: 345, padTop: 20, axisLeft: 63, axisBottom: 35, padRight: 13,
    yTitle: "通気層温度(℃)", yTitleX: 23, yTitleY: 162,
    note: "（ｂ）屋根断熱・通気層厚45㎜の場合", noteX: 538, noteY: 263, noteBold: true,
    showDataLabel: false,
    series: [
      outsideSeries,
      { label: "単独立地：軒天換気", data: bDetachedEave, width: THIN, dash: [] },
      { label: "住宅地想定：軒天換気", data: bHouseEave, width: THIN, dash: DOT },
      { label: "単独立地：棟換気併用", data: bDetachedRidge, width: THIN, dash: DASH },
      { label: "住宅地想定：棟換気併用", data: bHouseRidge, width: THIN, dash: DASHDOT },
    ],
    legend: [
      { label: "外気温", x1: 112, x2: 170, tx: 172, y: 55, width: OUT_W, dash: [] },
      { label: "住宅地想定：軒天換気", x1: 112, x2: 170, tx: 172, y: 79, width: THIN, dash: DOT },
      { label: "住宅地想定：棟換気併用", x1: 112, x2: 170, tx: 172, y: 103, width: THIN, dash: DASHDOT },
      { label: "単独立地：軒天換気", x1: 395, x2: 452, tx: 457, y: 55, width: THIN, dash: [] },
      { label: "単独立地：棟換気併用", x1: 395, x2: 452, tx: 457, y: 79, width: THIN, dash: DASH },
    ],
  },
  {
    top: 680, height: 355, padTop: 23, axisLeft: 62, axisBottom: 32, padRight: 13,
    yTitle: "通気層内温度 (℃)", yTitleX: 23, yTitleY: 166,
    note: "（c）住宅地想定：軒天換気タイプ・通気層厚30㎜の場合", noteX: 406, noteY: 265, noteBold: false,
    showDataLabel: true,
    series: [
      outsideSeries,
      { label: "R=5.882", data: cR5882, width: THIN, dash: [] },
      { label: "R=6.912", data: cR6912, width: THIN, dash: DOT },
      { label: "R=7.353", data: cR7353, width: THIN, dash: LONGDASH },
      { label: "R=8.382", data: cR8382, width: THIN, dash: DASHDOT },
    ],
    legend: [
      { label: "外気温", x1: 92, x2: 152, tx: 155, y: 59, width: OUT_W, dash: [] },
      { label: "R=5.882", x1: 265, x2: 327, tx: 330, y: 59, width: THIN, dash: [], mono: true },
      { label: "R=6.912", x1: 437, x2: 500, tx: 503, y: 59, width: THIN, dash: DOT, mono: true },
      { label: "R=7.353", x1: 92, x2: 152, tx: 155, y: 86, width: THIN, dash: LONGDASH, mono: true },
      { label: "R=8.382", x1: 265, x2: 327, tx: 330, y: 86, width: THIN, dash: DASHDOT, mono: true },
    ],
  },
];

function makeDecor(spec: PanelSpec) {
  return {
    id: "decor",
    afterDraw(chart: any) {
      const { ctx, chartArea: ca, scales } = chart;
      const xs = scales.x;
      const ys = scales.y;
      ctx.save();
      ctx.strokeStyle = INK;
      ctx.fillStyle = INK;
      ctx.setLineDash([]);
      // frame
      ctx.lineWidth = 1.6;
      ctx.strokeRect(ca.left, ca.top, ca.right - ca.left, ca.bottom - ca.top);
      // inner y ticks
      ctx.lineWidth = 1;
      for (let v = yMin; v <= yMax; v++) {
        const py = Math.round(ys.getPixelForValue(v)) + 0.5;
        ctx.beginPath();
        ctx.moveTo(ca.left, py);
        ctx.lineTo(ca.left + 5, py);
        ctx.stroke();
      }
      // x ticks on the zero line
      const y0 = ys.getPixelForValue(0);
      xTickLabels.forEach((t) => {
        const px = Math.round(xs.getPixelForValue(t - 1)) + 0.5;
        ctx.beginPath();
        ctx.moveTo(px, y0);
        ctx.lineTo(px, y0 - 6);
        ctx.stroke();
      });
      // legend
      spec.legend.forEach((it) => {
        ctx.lineWidth = it.width;
        ctx.setLineDash(it.dash);
        ctx.beginPath();
        ctx.moveTo(it.x1, it.y);
        ctx.lineTo(it.x2, it.y);
        ctx.stroke();
        ctx.setLineDash([]);
        ctx.font = it.mono ? `15px ${MONO}` : `17px ${GOTHIC}`;
        ctx.textAlign = "left";
        ctx.textBaseline = "middle";
        ctx.fillText(it.label, it.tx, it.y + 1);
      });
      // note
      ctx.font = `${spec.noteBold ? "bold " : ""}17px ${GOTHIC}`;
      ctx.textAlign = "left";
      ctx.textBaseline = "middle";
      ctx.fillText(spec.note, spec.noteX, spec.noteY);
      // y title
      ctx.save();
      ctx.translate(spec.yTitleX, spec.yTitleY);
      ctx.rotate(-Math.PI / 2);
      ctx.font = `16px ${GOTHIC}`;
      ctx.textAlign = "center";
      ctx.textBaseline = "middle";
      ctx.fillText(spec.yTitle, 0, 0);
      ctx.restore();
      // "Data" axis label
      if (spec.showDataLabel) {
        const px = xs.getPixelForValue(225);
        ctx.font = `16px 'Liberation Sans', Arial, sans-serif`;
        ctx.textAlign = "left";
        ctx.textBaseline = "middle";
        ctx.fillText("Data", px + 22, ca.bottom + 24);
      }
      ctx.restore();
    },
  };
}

function Panel({ spec }: { spec: PanelSpec }) {
  const ref = useRef<HTMLCanvasElement>(null);
  useEffect(() => {
    if (!ref.current) return;
    const chart = new Chart(ref.current, {
      type: "line",
      data: {
        labels: categories,
        datasets: spec.series.map((s) => ({
          label: s.label,
          data: s.data,
          borderColor: INK,
          borderWidth: s.width,
          borderDash: s.dash,
          pointRadius: 0,
          tension: 0,
          fill: false,
        })),
      },
      options: {
        animation: false,
        responsive: false,
        devicePixelRatio: 1,
        events: [],
        layout: { padding: { top: spec.padTop, right: spec.padRight, left: 0, bottom: 0 } },
        plugins: { legend: { display: false }, tooltip: { enabled: false } },
        scales: {
          x: {
            type: "category",
            offset: false,
            grid: { display: false, drawTicks: false },
            border: { display: false },
            ticks: {
              autoSkip: false,
              maxRotation: 0,
              minRotation: 0,
              padding: 14,
              color: INK,
              font: { family: SERIF, size: 17, weight: "bold" },
              callback: (_v: any, index: number) =>
                xTickLabels.includes(index + 1) ? categories[index] : "",
            },
            afterFit: (scale: any) => {
              scale.height = spec.axisBottom;
            },
          },
          y: {
            min: yMin,
            max: yMax,
            border: { display: false },
            grid: {
              drawTicks: false,
              color: (c: any) => (c.tick && c.tick.value === 0 ? INK : "rgba(0,0,0,0)"),
              lineWidth: (c: any) => (c.tick && c.tick.value === 0 ? 1.6 : 0),
            },
            ticks: {
              stepSize: 1,
              padding: 14,
              color: INK,
              font: { family: SERIF, size: 18, weight: "bold" },
            },
            afterFit: (scale: any) => {
              scale.width = spec.axisLeft;
            },
          },
        },
      } as any,
      plugins: [makeDecor(spec)],
    });
    return () => chart.destroy();
  }, [spec]);
  return (
    <canvas
      ref={ref}
      width={928}
      height={spec.height}
      style={{ position: "absolute", left: 0, top: spec.top, width: 928, height: spec.height, display: "block" }}
    />
  );
}

export default function App() {
  return (
    <div style={{ position: "absolute", left: 0, top: 0, width: 928, height: 1035, background: "#fff", overflow: "hidden" }}>
      {panels.map((p, i) => (
        <Panel key={i} spec={p} />
      ))}
    </div>
  );
}
